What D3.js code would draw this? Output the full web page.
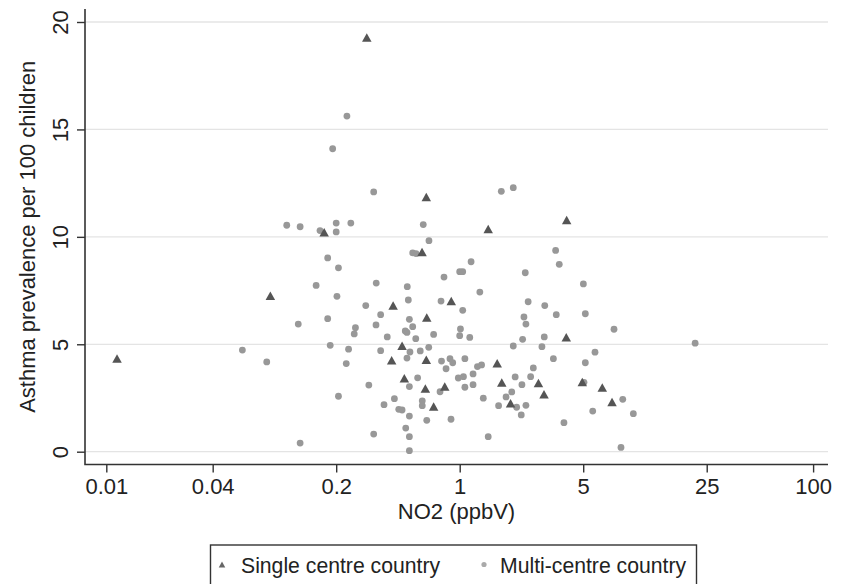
<!DOCTYPE html>
<html>
<head>
<meta charset="utf-8">
<script src="https://cdn.jsdelivr.net/npm/d3@7.9.0/dist/d3.min.js"></script>
<style>
  body { margin: 0; background: #fff; }
  svg text { font-family: Arial, "Liberation Sans", sans-serif; fill: #222; }
</style>
</head>
<body>
<svg id="chart" width="850" height="584"></svg>
<script>
// ====== DATA ======
// NO2 (ppbV) and asthma prevalence, single centre countries
const singleNO2 = [0.0115, 0.0848, 0.298, 0.647, 0.171, 0.612, 1.45, 4.03, 0.42, 0.651,
  0.472, 0.412, 0.647, 0.486, 0.639, 0.712, 0.896, 4.01, 1.63, 0.823,
  1.73, 2.79, 3.0, 4.94, 6.41, 7.28, 1.94];
const singlePrev = [4.30, 7.22, 19.24, 11.82, 10.17, 9.26, 10.32, 10.75, 6.77, 6.21,
  4.89, 4.22, 4.24, 3.38, 2.90, 2.07, 6.97, 5.29, 4.08, 3.00,
  3.18, 3.16, 2.64, 3.20, 2.95, 2.27, 2.22];

// multi-centre countries
const multiNO2 = [0.230, 0.191, 0.326, 1.72, 2.01, 0.105, 0.125, 0.162, 0.200, 0.200,
  0.242, 0.622, 0.670, 0.542, 0.566, 0.179, 0.206, 3.49, 3.66, 1.16,
  1.00, 1.04, 0.815, 2.35, 0.154, 0.337, 0.505, 0.202, 0.512, 0.784,
  0.294, 0.357, 0.122, 0.179, 0.257, 0.253, 0.336, 0.519, 0.542, 0.492,
  0.503, 0.712, 0.389, 0.564, 0.0589, 0.185, 0.235, 0.357, 0.523, 0.598,
  0.668, 0.0809, 0.228, 0.503, 0.789, 0.578, 0.519, 0.306, 0.774, 0.206,
  0.427, 0.614, 0.614, 0.373, 0.452, 0.472, 0.519, 0.651, 0.495, 0.326,
  0.519, 0.125, 0.519, 5.01, 1.30, 1.04, 2.44, 3.03, 3.52, 5.14,
  2.31, 2.37, 7.47, 1.01, 1.00, 1.14, 3.01, 2.27, 2.01, 2.92,
  3.39, 5.83, 5.14, 0.881, 0.913, 1.07, 0.837, 1.26, 1.33, 2.61,
  0.982, 1.05, 1.19, 2.06, 2.52, 1.07, 1.19, 2.25, 5.05, 8.37,
  9.61, 5.66, 1.97, 1.83, 1.36, 2.10, 1.66, 2.37, 2.23, 0.893,
  3.89, 1.45, 8.18, 21.5];
const multiPrev = [15.62, 14.10, 12.09, 12.12, 12.29, 10.54, 10.47, 10.29, 10.64, 10.23,
  10.64, 10.57, 9.82, 9.25, 9.22, 9.02, 8.56, 9.37, 8.72, 8.84,
  8.38, 8.38, 8.13, 8.33, 7.74, 7.85, 7.68, 7.23, 7.06, 7.01,
  6.80, 6.38, 5.94, 6.19, 5.77, 5.48, 5.90, 6.16, 5.82, 5.62,
  5.55, 5.46, 5.34, 5.26, 4.73, 4.95, 4.77, 4.70, 4.64, 4.69,
  4.86, 4.18, 4.10, 4.36, 4.22, 3.44, 3.03, 3.10, 2.79, 2.58,
  2.47, 2.37, 2.14, 2.19, 1.97, 1.94, 1.66, 1.46, 1.10, 0.82,
  0.70, 0.40, 0.05, 7.81, 7.43, 6.58, 6.98, 6.80, 6.38, 6.42,
  6.27, 5.94, 5.70, 5.71, 5.40, 5.32, 5.34, 5.23, 4.92, 4.89,
  4.33, 4.63, 4.14, 4.33, 4.14, 4.33, 3.86, 3.96, 4.04, 3.90,
  3.43, 3.49, 3.62, 3.48, 3.49, 3.00, 3.12, 3.12, 3.23, 2.44,
  1.77, 1.89, 2.78, 2.55, 2.49, 2.07, 2.14, 2.16, 1.71, 1.51,
  1.35, 0.70, 0.20, 5.05];

const xTicks = [0.01, 0.04, 0.2, 1, 5, 25, 100];
const xTickLabels = ["0.01", "0.04", "0.2", "1", "5", "25", "100"];
const yTicks = [0, 5, 10, 15, 20];

const singles = singleNO2.map((v, i) => ({ x: v, y: singlePrev[i] }));
const multis = multiNO2.map((v, i) => ({ x: v, y: multiPrev[i] }));

// ====== LAYOUT ======
const plot = { left: 85, right: 828, top: 9, bottom: 464.5 };
const fontSize = 22;
const svg = d3.select("#chart");

const x = d3.scaleLog().domain([0.01, 100]).range([106.3, 813.1]);
const y = d3.scaleLinear().domain([0, 20]).range([451.7, 22]);

// gridlines
svg.append("g")
  .selectAll("line")
  .data(yTicks)
  .join("line")
  .attr("x1", plot.left)
  .attr("x2", plot.right)
  .attr("y1", (d) => y(d))
  .attr("y2", (d) => y(d))
  .attr("stroke", "#e4e4e4")
  .attr("stroke-width", 1.3);

// x axis
const xAxis = svg.append("g")
  .attr("transform", `translate(0,${plot.bottom})`)
  .call(d3.axisBottom(x).tickValues(xTicks)
    .tickFormat((d, i) => xTickLabels[i]).tickSize(8).tickPadding(6));
xAxis.select(".domain").remove();
xAxis.selectAll("line").attr("stroke", "#333").attr("stroke-width", 1.4);
xAxis.selectAll("text").attr("font-size", fontSize).attr("fill", "#222")
  .attr("font-family", "Arial, 'Liberation Sans', sans-serif");

// y axis
const yAxis = svg.append("g")
  .attr("transform", `translate(${plot.left},0)`)
  .call(d3.axisLeft(y).tickValues(yTicks).tickSize(8));
yAxis.select(".domain").remove();
yAxis.selectAll("line").attr("stroke", "#333").attr("stroke-width", 1.4);
yAxis.selectAll("text")
  .attr("font-size", fontSize).attr("fill", "#222")
  .attr("font-family", "Arial, 'Liberation Sans', sans-serif")
  .attr("x", null).attr("dy", null)
  .attr("text-anchor", "middle")
  .attr("transform", "translate(-17,0) rotate(-90)");

// axis lines
svg.append("path")
  .attr("d", `M${plot.left},${plot.top}V${plot.bottom}H${plot.right}`)
  .attr("fill", "none")
  .attr("stroke", "#333")
  .attr("stroke-width", 1.6);

// axis titles
svg.append("text")
  .attr("x", (plot.left + plot.right) / 2)
  .attr("y", 519)
  .attr("text-anchor", "middle")
  .attr("font-size", fontSize)
  .text("NO2 (ppbV)");

svg.append("text")
  .attr("transform", `translate(35,${(plot.top + plot.bottom) / 2}) rotate(-90)`)
  .attr("text-anchor", "middle")
  .attr("font-size", fontSize)
  .text("Asthma prevalence per 100 children");

// ====== MARKERS ======
const tri = (cx, cy, w, h) =>
  `M${cx},${cy - h * 0.6}L${cx + w / 2},${cy + h * 0.4}L${cx - w / 2},${cy + h * 0.4}Z`;

svg.append("g")
  .selectAll("circle")
  .data(multis)
  .join("circle")
  .attr("cx", (d) => x(d.x))
  .attr("cy", (d) => y(d.y))
  .attr("r", 3.4)
  .attr("fill", "#989898");

svg.append("g")
  .selectAll("path")
  .data(singles)
  .join("path")
  .attr("d", (d) => tri(x(d.x), y(d.y), 9.5, 8.5))
  .attr("fill", "#555");

// ====== LEGEND ======
const legend = svg.append("g");
legend.append("rect")
  .attr("x", 210.5).attr("y", 545)
  .attr("width", 486).attr("height", 60)
  .attr("fill", "#fff")
  .attr("stroke", "#333")
  .attr("stroke-width", 1.4);
legend.append("path")
  .attr("d", tri(222, 565, 6.5, 6))
  .attr("fill", "#666");
legend.append("text")
  .attr("x", 241).attr("y", 573)
  .attr("font-size", 21.2)
  .text("Single centre country");
legend.append("circle")
  .attr("cx", 484).attr("cy", 564.5).attr("r", 2.6)
  .attr("fill", "#aaa");
legend.append("text")
  .attr("x", 500).attr("y", 573)
  .attr("font-size", 21.2)
  .text("Multi-centre country");
</script>
</body>
</html>
